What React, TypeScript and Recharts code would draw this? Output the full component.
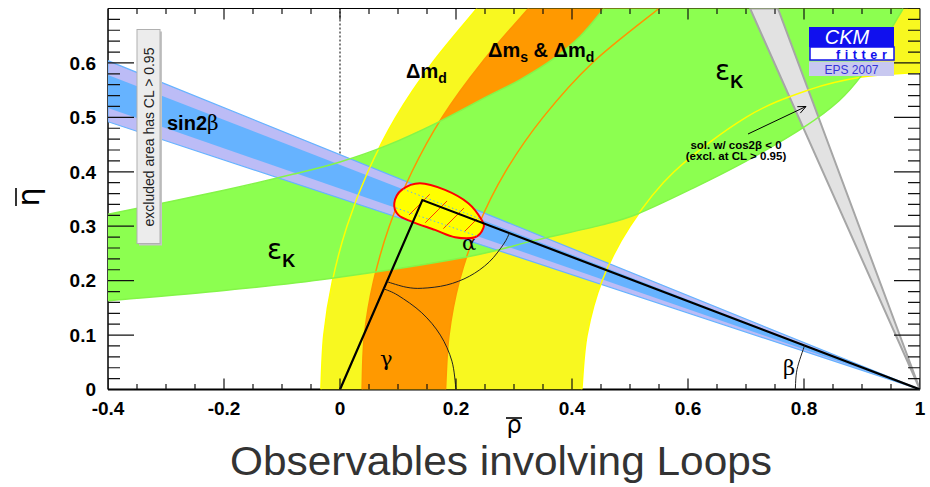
import React from "react";
import { ReferenceLine, Scatter, ScatterChart, XAxis, YAxis } from "recharts";

type Pt = [number, number];
type XY = { x: number; y: number };
type Edge = { pts: Pt[]; smooth?: boolean };

// axis ticks
const rhoTicks = [-0.4, -0.35, -0.3, -0.25, -0.2, -0.15, -0.1, -0.05, 0, 0.05, 0.1, 0.15, 0.2, 0.25, 0.3, 0.35, 0.4, 0.45, 0.5, 0.55, 0.6, 0.65, 0.7, 0.75, 0.8, 0.85, 0.9, 0.95, 1];
const rhoLabels = [-0.4, -0.2, 0, 0.2, 0.4, 0.6, 0.8, 1];
const etaTicks = [0, 0.02, 0.04, 0.06, 0.08, 0.1, 0.12, 0.14, 0.16, 0.18, 0.2, 0.22, 0.24, 0.26, 0.28, 0.3, 0.32, 0.34, 0.36, 0.38, 0.4, 0.42, 0.44, 0.46, 0.48, 0.5, 0.52, 0.54, 0.56, 0.58, 0.6, 0.62, 0.64, 0.66, 0.68, 0.7];
const etaLabels = [0, 0.1, 0.2, 0.3, 0.4, 0.5, 0.6];

// Delta m_d band (95% CL), edges as [rho, eta]
const dmdOuter: Pt[] = [[-0.033, 0], [-0.028, 0.1], [-0.013, 0.2], [0.012, 0.3], [0.048, 0.4], [0.096, 0.5], [0.159, 0.6], [0.236, 0.7]];
const dmdInner: Pt[] = [[0.417, 0], [0.426, 0.1], [0.452, 0.2], [0.5, 0.3], [0.576, 0.4], [0.7, 0.5], [0.807, 0.55], [0.9, 0.574], [1, 0.583]];

// Delta m_s & Delta m_d band
const dmsOuter: Pt[] = [[0.038, 0], [0.042, 0.1], [0.058, 0.2], [0.085, 0.3], [0.124, 0.4], [0.176, 0.5], [0.244, 0.6], [0.325, 0.7]];
const dmsInner: Pt[] = [[0.182, 0], [0.188, 0.1], [0.206, 0.2], [0.238, 0.3], [0.285, 0.4], [0.35, 0.5], [0.435, 0.6], [0.55, 0.7]];

// epsilon_K band
const epsUpper: Pt[] = [[-0.4, 0.322], [-0.2, 0.366], [-0.075, 0.397], [0, 0.418], [0.08, 0.448], [0.167, 0.49], [0.253, 0.538], [0.31, 0.569], [0.367, 0.607], [0.414, 0.649], [0.455, 0.7]];
const epsLower: Pt[] = [[-0.4, 0.163], [-0.2, 0.182], [-0.017, 0.204], [0.216, 0.243], [0.336, 0.274], [0.45, 0.302], [0.514, 0.323], [0.609, 0.37], [0.701, 0.42], [0.8, 0.482], [0.86, 0.53], [0.9, 0.578], [0.935, 0.635], [0.971, 0.7]];

// sin2beta wedges from (1, 0)
const sin2bOuter: Pt[] = [[1, 0], [-0.4, 0.604], [-0.4, 0.492]];
const sin2bInner: Pt[] = [[1, 0], [-0.4, 0.578], [-0.4, 0.517]];
const sin2bEdgeTop: Pt[] = [[0.09, 0.376], [0.25, 0.31]];
const sin2bEdgeBottom: Pt[] = [[0.09, 0.336], [0.25, 0.277]];

// solution with cos2beta < 0
const cos2bNeg: Pt[] = [[1, 0], [0.707, 0.7], [0.755, 0.7]];

// unitarity triangle and angle arcs
const triangle: Pt[] = [[0, 0], [0.142, 0.348], [1, 0]];
const gammaArc: Pt[] = [[0.0755, 0.185], [0.1, 0.173], [0.141, 0.141], [0.173, 0.1], [0.193, 0.052], [0.2, 0]];
const alphaArc: Pt[] = [[0.081, 0.198], [0.114, 0.188], [0.142, 0.186], [0.184, 0.192], [0.223, 0.208], [0.257, 0.234], [0.282, 0.267], [0.292, 0.287]];
const betaArc: Pt[] = [[0.785, 0], [0.788, 0.037], [0.801, 0.081]];

// global fit contour and its hatched core
const fitContour: Pt[] = [[0.0936, 0.3423], [0.1064, 0.3667], [0.1379, 0.379], [0.181, 0.3667], [0.2212, 0.3423], [0.2443, 0.3116], [0.2471, 0.2963], [0.2328, 0.2798], [0.1983, 0.2798], [0.1638, 0.2932], [0.1236, 0.3085], [0.1005, 0.3208]];
const fitCore: Pt[] = [[0.107, 0.337], [0.138, 0.361], [0.181, 0.348], [0.224, 0.326], [0.238, 0.302], [0.21, 0.29], [0.164, 0.3], [0.121, 0.319]];

const sans = "'Liberation Sans', Arial, Helvetica, sans-serif";
const serif = "'DejaVu Serif', 'Liberation Serif', serif";

const blank = () => <g />;

function spline(p: XY[], loop: boolean): string {
  const n = p.length;
  const at = (i: number) => (loop ? p[(i + n) % n] : p[Math.max(0, Math.min(n - 1, i))]);
  const segs = loop ? n : n - 1;
  let d = "";
  for (let i = 0; i < segs; i++) {
    const a = at(i - 1), b = at(i), c = at(i + 1), e = at(i + 2);
    d += ` C${b.x + (c.x - a.x) / 6},${b.y + (c.y - a.y) / 6} ${c.x - (e.x - b.x) / 6},${c.y - (e.y - b.y) / 6} ${c.x},${c.y}`;
  }
  return d;
}

function outline(points: XY[], edges: Edge[], closed: boolean, loop: boolean) {
  let i = 0;
  let d = "";
  edges.forEach((e, k) => {
    const seg = points.slice(i, i + e.pts.length);
    i += e.pts.length;
    d += `${k ? " L" : "M"}${seg[0].x},${seg[0].y}`;
    if (e.smooth) d += spline(seg, loop);
    else seg.slice(1).forEach((q) => (d += ` L${q.x},${q.y}`));
  });
  return closed ? d + " Z" : d;
}

type Opts = { closed?: boolean; loop?: boolean; extra?: (d: string) => React.ReactNode };

// one Scatter per region: its points go through the chart scales, the line
// renderer turns them into a filled or stroked path
function region(id: string, edges: Edge[], look: React.SVGProps<SVGPathElement>, opts: Opts = {}) {
  const data = edges.flatMap((e) => e.pts.map(([x, y]) => ({ x, y })));
  return (
    <Scatter
      key={id}
      data={data}
      shape={blank}
      legendType="none"
      isAnimationActive={false}
      line={(p: any) => {
        const d = outline(p.points, edges, opts.closed ?? true, !!opts.loop);
        return (
          <g>
            {opts.extra ? opts.extra(d) : null}
            <path d={d} {...look} />
          </g>
        );
      }}
    />
  );
}

const rev = (a: Pt[]) => [...a].reverse();
const curve = (pts: Pt[]) => [{ pts, smooth: true }];
const lineLook = (stroke: string, w = 1.5) => ({ fill: "none", stroke, strokeWidth: w });

function ticks(id: string, data: XY[], draw: (cx: number, cy: number, major: boolean) => React.ReactNode, isMajor: (q: XY) => boolean) {
  return (
    <Scatter
      key={id}
      data={data}
      legendType="none"
      isAnimationActive={false}
      shape={(p: any) => <g>{draw(p.cx, p.cy, isMajor(p.payload))}</g>}
    />
  );
}

const tickStroke = { stroke: "#111", strokeWidth: 1.2 };
const rhoMajor = (q: XY) => rhoLabels.includes(q.x);
const etaMajor = (q: XY) => etaLabels.includes(q.y);

function Notes() {
  return (
    <svg width={930} height={487} style={{ position: "absolute", left: 0, top: 0, pointerEvents: "none" }}>
      {/* legend box */}
      <rect x={139} y={31.5} width={23} height={214} fill="#c4c4c4" />
      <rect x={137} y={29.5} width={23} height={214} fill="#ececec" stroke="#b0b0b0" />
      <text transform="translate(153.5,137) rotate(-90)" textAnchor="middle" fontFamily={sans} fontSize={14} fill="#222">
        excluded area has CL &gt; 0.95
      </text>

      <text x={167} y={130} fontFamily={sans} fontSize={20} fontWeight={700}>
        sin2<tspan fontFamily={serif} fontWeight={400}>β</tspan>
      </text>

      <text x={267} y={259} fontFamily="'DejaVu Sans', sans-serif" fontSize={28}>
        ε<tspan fontFamily={sans} fontWeight={700} fontSize={18} dy={8}>K</tspan>
      </text>
      <text x={715} y={80} fontFamily="'DejaVu Sans', sans-serif" fontSize={28}>
        ε<tspan fontFamily={sans} fontWeight={700} fontSize={18} dy={8}>K</tspan>
      </text>

      <text x={406} y={78} fontFamily={sans} fontSize={20} fontWeight={700}>
        Δm<tspan fontSize={14} dy={5}>d</tspan>
      </text>
      <text x={488} y={57} fontFamily={sans} fontSize={20} fontWeight={700}>
        Δm<tspan fontSize={14} dy={5}>s</tspan>
        <tspan dy={-5}> &amp; Δm</tspan>
        <tspan fontSize={14} dy={5}>d</tspan>
      </text>

      <text x={462} y={250} fontFamily={serif} fontSize={21}>α</text>
      <text x={380} y={366} fontFamily={serif} fontSize={21}>γ</text>
      <text x={783} y={375} fontFamily={serif} fontSize={21}>β</text>

      {/* cos2beta < 0 note */}
      <text x={736} y={148.5} textAnchor="middle" fontFamily={sans} fontSize={11.5} fontWeight={700}>
        sol. w/ cos2β &lt; 0
      </text>
      <text x={736} y={159.5} textAnchor="middle" fontFamily={sans} fontSize={11.5} fontWeight={700}>
        (excl. at CL &gt; 0.95)
      </text>
      <line x1={748} y1={134} x2={806} y2={106.5} stroke="#000" strokeWidth={1} />
      <polyline points="800.3,113.1 806,106.5 797.3,106.7" fill="none" stroke="#000" strokeWidth={1} />

      {/* logo */}
      <rect x={809} y={27} width={85} height={20} fill="#1010ee" />
      <text x={847} y={43.5} textAnchor="middle" fontFamily={sans} fontStyle="italic" fontSize={20} fill="#fff">CKM</text>
      <rect x={810} y={47} width={84} height={13} fill="#fff" stroke="#1010ee" strokeWidth={1.5} />
      <text x={836} y={58.5} fontFamily={sans} fontSize={12.5} fontWeight={700} fill="#1010ee" letterSpacing={4.6}>fitter</text>
      <rect x={809} y={61.5} width={85} height={14.5} fill="#c8c8f0" />
      <text x={851.5} y={74} textAnchor="middle" fontFamily={sans} fontSize={12} fill="#3434d8">EPS 2007</text>

      {/* axis titles */}
      <g transform="translate(39,197) rotate(-90)">
        <text x={0} y={0} textAnchor="middle" fontFamily="'DejaVu Sans', sans-serif" fontSize={30}>η</text>
        <line x1={-9} x2={9} y1={-23} y2={-23} stroke="#000" strokeWidth={1.6} />
      </g>
      <text x={514} y={433} textAnchor="middle" fontFamily="'DejaVu Sans', sans-serif" fontSize={24}>ρ</text>
      <line x1={506} x2={522} y1={418} y2={418} stroke="#000" strokeWidth={1.6} />

      <text x={501} y={475} textAnchor="middle" fontFamily={sans} fontSize={41} fill="#333"
        textLength={542} lengthAdjust="spacingAndGlyphs">
        Observables involving Loops
      </text>
    </svg>
  );
}

const axisFont = { fill: "#000", fontSize: 19, fontWeight: 700, fontFamily: sans };

export default function App() {
  return (
    <div style={{ position: "absolute", left: 0, top: 0, width: 930, height: 487, background: "#fff" }}>
      <ScatterChart width={930} height={487} margin={{ top: 8.5, right: 10, bottom: 67.5, left: 48 }}>
        <XAxis type="number" dataKey="x" domain={[-0.4, 1]} ticks={rhoLabels} interval={0} allowDataOverflow
          tickLine={false} axisLine={false} tickSize={0} tickMargin={12} height={30} tick={axisFont}
          tickFormatter={(v: number) => String(v)} />
        <YAxis type="number" dataKey="y" domain={[0, 0.7]} ticks={etaLabels} interval={0} allowDataOverflow
          tickLine={false} axisLine={false} tickSize={0} tickMargin={12} width={60} tick={axisFont}
          tickFormatter={(v: number) => String(v)} />

        {region("dmd", [{ pts: dmdOuter, smooth: true }, { pts: [[1, 0.7]] }, { pts: rev(dmdInner), smooth: true }], { fill: "#f8f820" })}
        {region("dms", [{ pts: dmsOuter, smooth: true }, { pts: rev(dmsInner), smooth: true }], { fill: "#ff9900" })}
        {region("eps", [{ pts: epsUpper, smooth: true }, { pts: rev(epsLower), smooth: true }], { fill: "#8cff50" })}
        {region("s2b-out", [{ pts: sin2bOuter }], { fill: "#bcbcf6", stroke: "#66b3ff", strokeWidth: 1.2 })}
        {region("s2b-in", [{ pts: sin2bInner }], { fill: "#66b3ff" })}
        {region("c2b", [{ pts: cos2bNeg }], { fill: "#e2e2e2", stroke: "#a6a6a6", strokeWidth: 2 })}

        {region("l-dmd-o", curve(dmdOuter), lineLook("#ffff00"), { closed: false })}
        {region("l-dmd-i", curve(dmdInner), lineLook("#ffff00"), { closed: false })}
        {region("l-dms-o", curve(dmsOuter), lineLook("#ff9400"), { closed: false })}
        {region("l-dms-i", curve(dmsInner), lineLook("#ff9400"), { closed: false })}
        {region("l-eps-u", curve(epsUpper), lineLook("#84f548"), { closed: false })}
        {region("l-eps-l", curve(epsLower), lineLook("#84f548"), { closed: false })}

        <ReferenceLine x={0} stroke="#000" strokeWidth={1} strokeDasharray="2 2" />

        {region("fit", curve(fitContour), { fill: "#ffff00", stroke: "#ff0000", strokeWidth: 2 }, {
          loop: true,
          extra: (d) => (
            <defs>
              <clipPath id="fit-clip"><path d={d} /></clipPath>
              <pattern id="fit-hatch" width={24} height={24} patternUnits="userSpaceOnUse">
                <path d="M0,24 L24,0 M-6,6 L6,-6 M18,30 L30,18" stroke="#ff3a00" strokeWidth={1} />
              </pattern>
            </defs>
          ),
        })}
        {region("fit-core", curve(fitCore), { fill: "url(#fit-hatch)", stroke: "none" }, { loop: true })}
        {region("fit-e1", [{ pts: sin2bEdgeTop }], { fill: "none", stroke: "#5aaeff", strokeWidth: 1, strokeDasharray: "1.5 2.5", clipPath: "url(#fit-clip)" }, { closed: false })}
        {region("fit-e2", [{ pts: sin2bEdgeBottom }], { fill: "none", stroke: "#5aaeff", strokeWidth: 1, strokeDasharray: "1.5 2.5", clipPath: "url(#fit-clip)" }, { closed: false })}

        {region("ut", [{ pts: triangle }], { fill: "none", stroke: "#000", strokeWidth: 2.2, strokeLinejoin: "miter" }, { closed: false })}
        {region("gamma", curve(gammaArc), lineLook("#222", 1), { closed: false })}
        {region("alpha", curve(alphaArc), lineLook("#222", 1), { closed: false })}
        {region("beta", curve(betaArc), lineLook("#222", 1), { closed: false })}

        {ticks("t-bottom", rhoTicks.map((x) => ({ x, y: 0 })), (cx, cy, m) => <line x1={cx} x2={cx} y1={cy} y2={cy - (m ? 11 : 5.5)} {...tickStroke} />, rhoMajor)}
        {ticks("t-top", rhoTicks.map((x) => ({ x, y: 0.7 })), (cx, cy, m) => <line x1={cx} x2={cx} y1={cy} y2={cy + (m ? 11 : 5.5)} {...tickStroke} />, rhoMajor)}
        {ticks("t-left", etaTicks.map((y) => ({ x: -0.4, y })), (cx, cy, m) => <line x1={cx} x2={cx + (m ? 26 : 12)} y1={cy} y2={cy} {...tickStroke} />, etaMajor)}
        {ticks("t-right", etaTicks.map((y) => ({ x: 1, y })), (cx, cy, m) => <line x1={cx} x2={cx - (m ? 26 : 12)} y1={cy} y2={cy} {...tickStroke} />, etaMajor)}

        <ReferenceLine x={-0.4} stroke="#000" strokeWidth={1.5} />
        <ReferenceLine x={1} stroke="#000" strokeWidth={1} />
        <ReferenceLine y={0.7} stroke="#000" strokeWidth={1} />
        <ReferenceLine y={0} stroke="#000" strokeWidth={2} />
      </ScatterChart>
      <Notes />
    </div>
  );
}
